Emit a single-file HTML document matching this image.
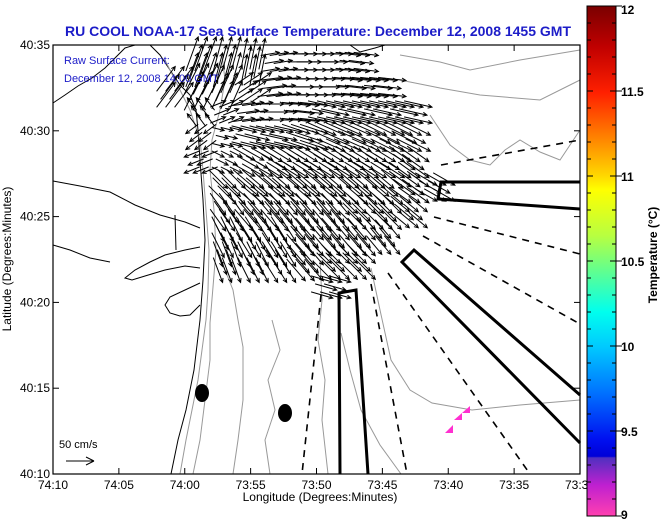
<!DOCTYPE html>
<html><head><meta charset="utf-8"><style>
html,body{margin:0;padding:0;background:#fff;}
svg{display:block;font-family:"Liberation Sans",sans-serif;}
</style></head><body>
<svg id="chart" width="660" height="519" viewBox="0 0 660 519" xmlns="http://www.w3.org/2000/svg">
<defs>
<linearGradient id="cbar" x1="0" y1="0" x2="0" y2="1">
<stop offset="0" stop-color="#7a0000"/>
<stop offset="0.08" stop-color="#c00000"/>
<stop offset="0.17" stop-color="#ff2000"/>
<stop offset="0.27" stop-color="#ff9000"/>
<stop offset="0.333" stop-color="#ffd800"/>
<stop offset="0.36" stop-color="#ffff00"/>
<stop offset="0.45" stop-color="#b8ff40"/>
<stop offset="0.52" stop-color="#60ff90"/>
<stop offset="0.6" stop-color="#00ffee"/>
<stop offset="0.67" stop-color="#00c8ff"/>
<stop offset="0.76" stop-color="#0070ff"/>
<stop offset="0.85" stop-color="#0010f0"/>
<stop offset="0.883" stop-color="#0000d8"/>
<stop offset="0.886" stop-color="#5030c0"/>
<stop offset="0.94" stop-color="#c020d0"/>
<stop offset="1" stop-color="#ff40b0"/>
</linearGradient>
</defs>
<text x="318" y="36" text-anchor="middle" font-size="14" font-weight="bold" fill="#1c1cc8">RU COOL  NOAA-17  Sea Surface Temperature:  December 12, 2008 1455 GMT</text>
<rect x="53" y="45" width="527" height="429" fill="#fff"/>
<g id="land" fill="none" stroke="#000" stroke-width="1">
<polyline points="171,474 178,440 186,410 194,370 200,320 203,280 205,240 203,200 200,160 198,130 196,110 190,95 180,85 170,70 160,55 150,45"/>
<polyline points="53,103 65,95 78,86 92,78 105,68 115,58 125,48 135,45"/>
<polyline points="53,181 80,186 110,192 135,205 160,215 185,222 200,228"/>
<polyline points="200,247 185,250 165,255 150,262 135,270 125,278 132,280 145,276 165,270 185,266 200,268"/>
<polyline points="200,283 185,290 170,297 165,305 170,313 180,316 190,315 200,305"/>
<polyline points="53,245 70,250 90,258 110,262"/>
<polyline points="350,45 360,52 375,48 385,45"/>
<polyline points="175,215 176,250"/>
</g>
<g fill="none" stroke="#999" stroke-width="1">
<polyline points="180,474 186,440 192,410 198,380 202,350 206,320 208,290 209,250 206,210 203,170 200,140 190,110 175,80 165,60"/>
<polyline points="193,474 200,440 205,400 210,360 210,323 213,287 216,250 214,210 210,170 212,140 220,110 225,80 222,55"/>
<polyline points="233,474 238,440 243,400 243,347 238,320 233,290 225,270 220,260"/>
<polyline points="320,260 322,300 318,340 325,380 322,420 328,474"/>
<polyline points="341,333 350,370 361,410 380,445 401,474"/>
<polyline points="371,268 380,310 391,360 410,390 432,403 472,410 520,405 580,400"/>
<polyline points="400,55 440,62 470,70 520,60 580,50"/>
<polyline points="400,80 440,88 480,95 540,100 580,80"/>
<polyline points="430,115 450,145 470,160 490,165 505,150 520,140 540,152 560,160 580,130"/>
<polyline points="270,474 265,440 275,410 268,380 280,350 272,320"/>
</g>
<g fill="none" stroke="#000" stroke-width="3">
<polyline points="340,474 339,293 356,290 368,474"/>
<polyline points="580,395 414,250 402,262 580,443"/>
<polyline points="580,182 441,182 438,199 580,209"/>
</g>
<g fill="none" stroke="#000" stroke-width="1.6" stroke-dasharray="7,6">
<line x1="441" y1="165" x2="580" y2="140"/>
<line x1="434" y1="217" x2="580" y2="254"/>
<line x1="423" y1="236" x2="580" y2="324"/>
<line x1="388" y1="273" x2="530" y2="474"/>
<line x1="371" y1="284" x2="407" y2="474"/>
<line x1="321" y1="295" x2="302" y2="474"/>
</g>
<ellipse cx="202" cy="393" rx="7" ry="9" fill="#000"/>
<ellipse cx="285" cy="413" rx="7" ry="9" fill="#000"/>
<g fill="#ff30d0">
<polygon points="445,433 453,425 453,433"/>
<polygon points="454,420 462,413 462,420"/>
<polygon points="462,413 470,406 470,413"/>
</g>
<g id="arrows" stroke="#000" stroke-width="1" fill="none"></g>
<text x="64" y="64" font-size="11" fill="#1c1cc8">Raw Surface Current:</text>
<text x="64" y="82" font-size="11" fill="#1c1cc8">December 12, 2008 14:00 GMT</text>
<text x="59" y="448" font-size="11" fill="#000">50 cm/s</text>
<g stroke="#000" stroke-width="1">
<line x1="66" y1="461" x2="94" y2="461"/><line x1="94" y1="461" x2="86" y2="457"/><line x1="94" y1="461" x2="86" y2="465"/>
</g>
<rect x="53" y="45" width="527" height="429" fill="none" stroke="#000" stroke-width="1.2"/>
<g id="axes" font-size="12" fill="#000"></g>
<text x="320" y="501" text-anchor="middle" font-size="12">Longitude (Degrees:Minutes)</text>
<text transform="translate(11,259) rotate(-90)" text-anchor="middle" font-size="12">Latitude (Degrees:Minutes)</text>
<rect x="587" y="6" width="29" height="510" fill="url(#cbar)" stroke="#000" stroke-width="1"/>
<g id="cbticks"></g>
<text transform="translate(657,255) rotate(-90)" text-anchor="middle" font-size="12" font-weight="bold">Temperature (°C)</text>
</svg>
<script>
const xTickLabels = ["74:10","74:05","74:00","73:55","73:50","73:45","73:40","73:35","73:30"];
const yTickLabels = ["40:10","40:15","40:20","40:25","40:30","40:35"];
const cbTickLabels = ["9","9.5","10","10.5","11","11.5","12"];
const cbTickValues = [9,9.5,10,10.5,11,11.5,12];
// current field grid (cm/s): rows north→south, cols west→east
const gridLon = [-74.0124,-73.9795,-73.9466,-73.9137,-73.8808,-73.8479,-73.8150,-73.7821,-73.7492,-73.7163,-73.6834];
const gridLat = [40.5669,40.5426,40.5183,40.4940,40.4697,40.4454,40.4211,40.3969,40.3726,40.3483];
const uRows = [
 [null,20,15,10,30,40,40,40,null,null,null],
 [30,25,20,30,40,45,45,45,45,null,null],
 [null,-15,25,35,45,45,45,45,45,45,null],
 [null,-20,20,40,45,45,45,45,40,40,null],
 [null,-25,20,35,40,40,40,40,40,35,null],
 [null,null,30,35,35,35,35,35,35,35,35],
 [null,null,25,30,30,30,30,30,30,30,null],
 [null,null,20,25,25,30,30,30,25,null,null],
 [null,null,15,20,25,30,30,30,null,null,null],
 [null,null,null,null,null,null,35,null,null,null,null]
];
const vRows = [
 [null,55,55,50,5,0,0,-5,null,null,null],
 [40,50,45,20,5,0,0,-5,-5,null,null],
 [null,20,10,5,0,-5,-10,-10,-10,-10,null],
 [null,-15,-5,-10,-10,-15,-20,-20,-20,-20,null],
 [null,-10,-10,-20,-25,-25,-25,-25,-25,-25,null],
 [null,null,-30,-30,-30,-30,-30,-30,-30,-25,-20],
 [null,null,-35,-35,-35,-35,-35,-30,-30,-25,null],
 [null,null,-40,-40,-40,-35,-35,-35,-30,null,null],
 [null,null,-40,-40,-40,-35,-30,-30,null,null,null],
 [null,null,null,null,null,null,-10,null,null,null,null]
];
const NS="http://www.w3.org/2000/svg";
const X0=53,X1=580,Y0=474,Y1=45;
function xScale(lon){ return X0+(lon-(-74-10/60))/((-73.5)-(-74-10/60))*(X1-X0);}
function yScale(lat){ return Y0-(lat-(40+10/60))/((40+35/60)-(40+10/60))*(Y0-Y1);}
const pxPerCm=0.62;
const axes=document.getElementById('axes');
function mk(tag,attrs,parent){const e=document.createElementNS(NS,tag);for(const k in attrs)e.setAttribute(k,attrs[k]);parent.appendChild(e);return e;}
xTickLabels.forEach((lab,i)=>{
  const lon=-(74+10/60)+i*5/60;const x=xScale(lon);
  const t=mk('line',{x1:x,y1:Y0,x2:x,y2:Y0-6,stroke:'#000'},axes);
  
  
  const t2=mk('line',{x1:x,y1:Y1,x2:x,y2:Y1+6,stroke:'#000'},axes);
  
  
  const tx=mk('text',{x:x,y:Y0+15,'text-anchor':'middle'},axes);tx.textContent=lab;
  
  
});
yTickLabels.forEach((lab,i)=>{
  const lat=40+10/60+i*5/60;const y=yScale(lat);
  const t=mk('line',{x1:X0,y1:y,x2:X0+6,y2:y,stroke:'#000'},axes);
  
  
  const t2=mk('line',{x1:X1,y1:y,x2:X1-6,y2:y,stroke:'#000'},axes);
  
  
  const tx=mk('text',{x:X0-3,y:y+4,'text-anchor':'end'},axes);tx.textContent=lab;
  
  
});
const cb=document.getElementById('cbticks');
function cbY(v){return 516-(v-9)/3*510;}
for(let k=0;k<=30;k++){const y=cbY(9+k*0.1);const len=(k%5===0)?6:4;
  const a=mk('line',{x1:587,y1:y,x2:587+len,y2:y,stroke:'#000'},cb);
  
  
  const b=mk('line',{x1:616,y1:y,x2:616-len,y2:y,stroke:'#000'},cb);
  
  }
cbTickValues.forEach((v,i)=>{const y=cbY(v);
  const l=mk('line',{x1:616,y1:y,x2:622,y2:y,stroke:'#000'},cb);
  
  
  const t=mk('text',{x:621,y:Math.min(Math.max(y+5,14),519),'font-size':12,'font-weight':'bold'},cb);t.textContent=cbTickLabels[i];
  
  });
const ag=document.getElementById('arrows');
function arrow(x,y,u,v){
  const dx=u*pxPerCm,dy=-v*pxPerCm;const x2=x+dx,y2=y+dy;
  const L=Math.hypot(dx,dy);if(L<1)return;
  const ux=dx/L,uy=dy/L,h=4.5;
  const ang=0.45;const c=Math.cos(ang),s=Math.sin(ang);
  const hx1=x2-h*(ux*c-uy*s),hy1=y2-h*(uy*c+ux*s);
  const hx2=x2-h*(ux*c+uy*s),hy2=y2-h*(uy*c-ux*s);
  const p=mk('path',{d:`M${x.toFixed(1)},${y.toFixed(1)}L${x2.toFixed(1)},${y2.toFixed(1)}M${hx1.toFixed(1)},${hy1.toFixed(1)}L${x2.toFixed(1)},${y2.toFixed(1)}L${hx2.toFixed(1)},${hy2.toFixed(1)}`},ag);
  
  
}
// staggered sub-sampling offsets within each grid cell
const subs=[[-9,-8],[0,-8],[9,-8],[-5,0],[4,0],[-9,8],[0,8],[9,8]];
uRows.forEach((row,j)=>row.forEach((u,i)=>{
  const v=vRows[j][i];if(u===null||v===null)return;
  const cx=xScale(gridLon[i]),cy=yScale(gridLat[j]);
  subs.forEach(o=>arrow(cx+o[0]-u*pxPerCm/2,cy+o[1]+v*pxPerCm/2,u,v));
}));
</script>
</body></html>
